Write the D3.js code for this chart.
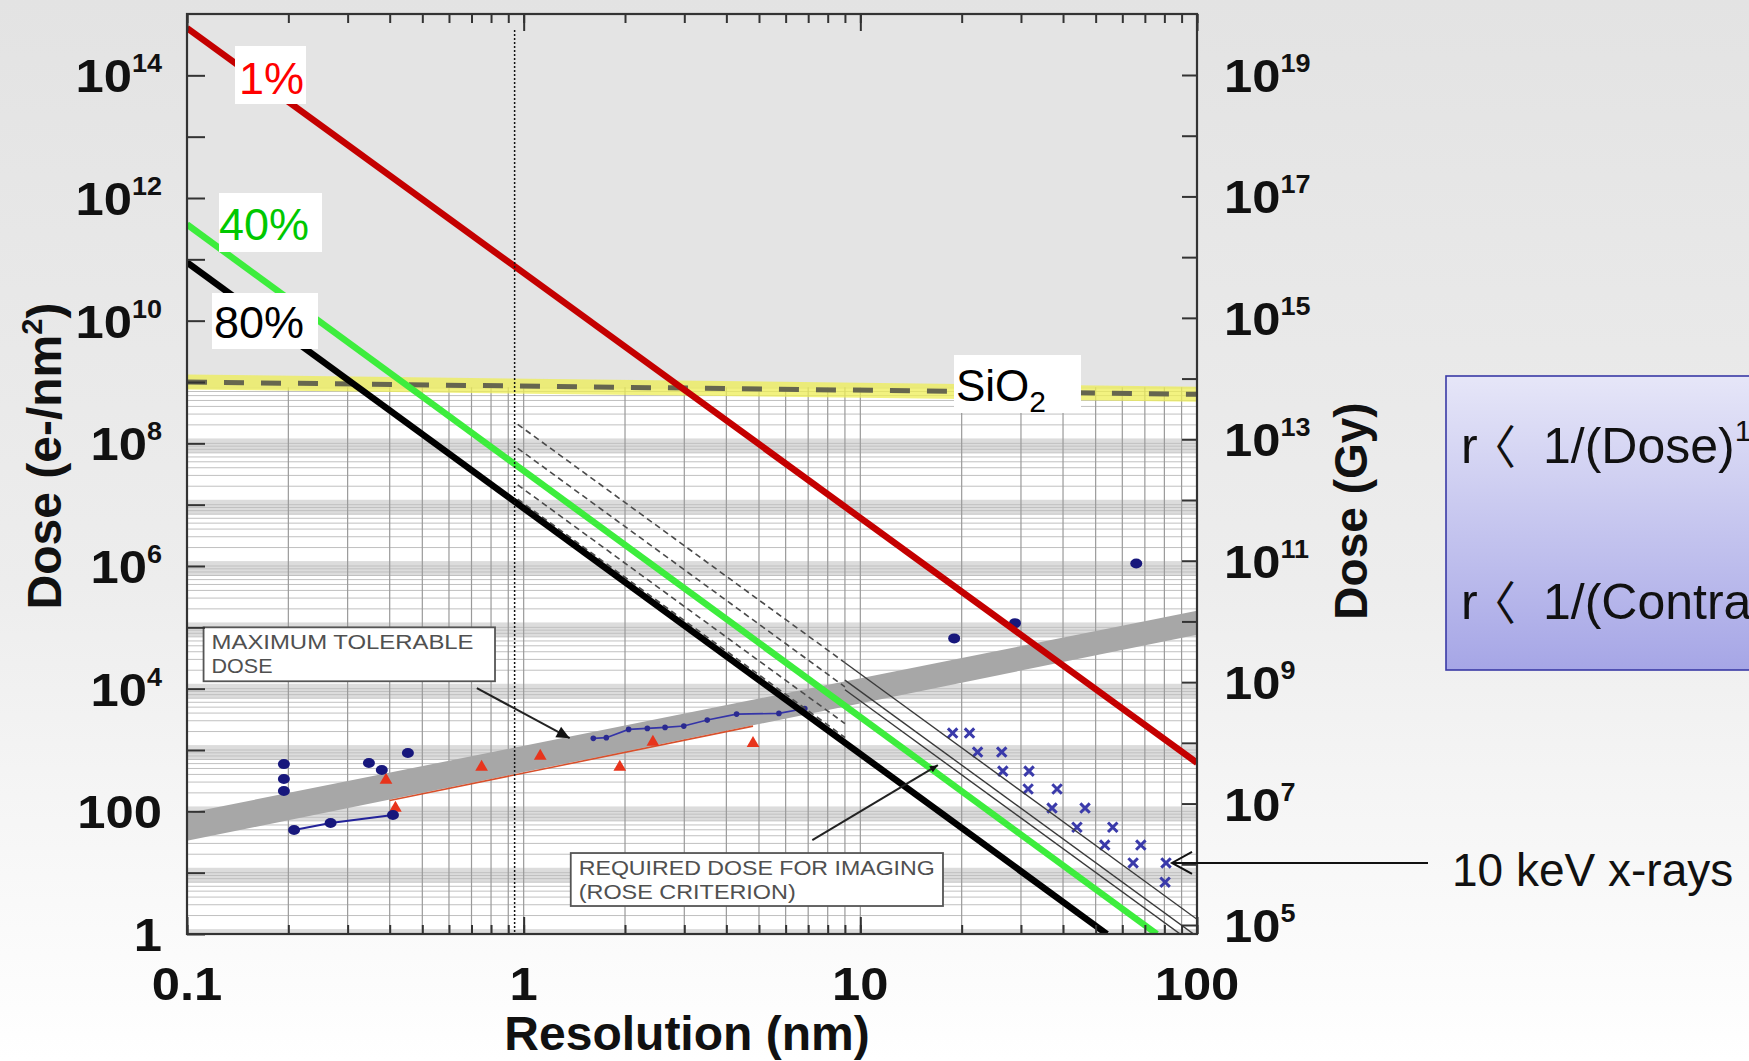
<!DOCTYPE html>
<html>
<head>
<meta charset="utf-8">
<script src="https://cdn.jsdelivr.net/npm/d3@7"></script>
<style>
  body { margin: 0; overflow: hidden; background: #fff; }
  svg { display: block; font-family: "Liberation Sans", Arial, sans-serif; }
</style>
</head>
<body>
<svg id="chart" width="1749" height="1061"></svg>
<script>
// ---- values ----
const xTickValues = [0.1, 1, 10, 100];
const xTickLabels = ['0.1', '1', '10', '100'];
const leftExps = d3.range(0, 15);            // 1 .. 1e14, tick each decade
const leftLabelExps = [0, 2, 4, 6, 8, 10, 12, 14];
const rightExps = d3.range(5, 20);           // 1e5 .. 1e19 (Gy)
const rightLabelExps = [5, 7, 9, 11, 13, 15, 17, 19];

// dose needed for a given fraction of resolvable features
const pctNames = ['1%', '40%', '80%'];
const pctColors = ['#c40000', '#3ded3d', '#000000'];
const pctLines = [
  [[0.1, 5.9e14], [100, 617]],
  [[0.1, 3.7e11], [76, 1]],
  [[0.1, 8.9e10], [54, 1]]
];

// SiO2 damage level
const sio2Line = [[0.1, 1.0e9], [100, 6.3e8]];

// Rose criterion lines of the original figure
const roseDashed = [
  [[0.96, 2.04e8], [9, 2.65e4]],
  [[0.96, 8.3e7], [9, 1.07e4]],
  [[0.96, 4.2e7], [9, 5.4e3]],
  [[0.96, 2.1e7], [9, 2.7e3]],
  [[0.96, 1.23e7], [9, 1.6e3]]
];
const roseSolid = [
  [[9, 2.65e4], [100, 1.74]],
  [[9, 1.38e4], [100, 0.91]],
  [[9, 9.6e3], [100, 0.63]]
];

// maximum tolerable dose band
const bandTop = [[0.1, 93], [100, 1.86e5]];
const bandBottom = [[0.1, 33], [100, 7.6e4]];

// measured points
const blueDots = [[0.194, 589], [0.194, 336], [0.194, 214], [0.347, 612], [0.379, 471],
                  [0.453, 891], [19, 6.6e4], [28.8, 1.17e5], [66, 1.1e6]];
const blueLow = [[0.208, 49.5], [0.267, 64.5], [0.409, 87]];
const blueUpper = [[1.61, 1549], [1.76, 1590], [2.05, 2168], [2.33, 2250], [2.63, 2335],
                   [2.99, 2455], [3.51, 3075], [4.29, 3850], [5.73, 3950], [6.84, 4760]];
const triangles = [[0.39, 324], [0.416, 113], [0.75, 525], [1.12, 794], [1.93, 525],
                   [2.42, 1350], [4.8, 1290]];
const redFit = [[0.4, 150], [4.8, 2450]];
const xrays = [[18.8, 1890], [21.1, 1890], [22.3, 925], [26.3, 925], [26.5, 453], [31.7, 453],
               [31.5, 231], [38.4, 231], [37.1, 113], [46.5, 113], [44, 55], [56.2, 55],
               [53.2, 28.2], [68.1, 28.2], [64.6, 14.4], [80.9, 14.4], [80.4, 7.0]];
const dottedX = 0.94;

// ---- layout ----
const W = 1749, H = 1061;
const frame = { left: 187, right: 1197, top: 14, bottom: 934 };
const gridTopValue = 8.2e8;
const tickFont = 47, supFont = 25, stretch = 1.08;

const svg = d3.select('#chart');
const defs = svg.append('defs');

const x = d3.scaleLog().domain([0.1, 100]).range([frame.left, frame.right]);
const y = d3.scaleLog().domain([1, 1e15]).range([frame.bottom, frame.top]);
const yRight = d3.scaleLog().domain([1e5, 1e19]).range([925, 75]);

function minorTicks(lo, hi){
  let out = [];
  for(let e = Math.floor(Math.log10(lo)); e <= Math.ceil(Math.log10(hi)); e++){
    for(let k = 1; k < 10; k++){
      let v = k * Math.pow(10, e);
      if(v >= lo * 0.999 && v <= hi * 1.001) out.push(v);
    }
  }
  return out;
}

// background gradients
const bg = defs.append('linearGradient').attr('id', 'bg').attr('x1', 0).attr('y1', 0).attr('x2', 0).attr('y2', 1);
bg.append('stop').attr('offset', '0%').attr('stop-color', '#e3e3e3');
bg.append('stop').attr('offset', '55%').attr('stop-color', '#ededed');
bg.append('stop').attr('offset', '100%').attr('stop-color', '#ffffff');

const boxGrad = defs.append('linearGradient').attr('id', 'boxg').attr('x1', 0).attr('y1', 0).attr('x2', 0).attr('y2', 1);
boxGrad.append('stop').attr('offset', '0%').attr('stop-color', '#e6e6f8');
boxGrad.append('stop').attr('offset', '100%').attr('stop-color', '#a6a6e6');

defs.append('clipPath').attr('id', 'plotclip')
  .append('rect')
  .attr('x', frame.left).attr('y', frame.top)
  .attr('width', frame.right - frame.left).attr('height', frame.bottom - frame.top);

svg.append('rect').attr('width', W).attr('height', H).attr('fill', 'url(#bg)');

const plot = svg.append('g').attr('clip-path', 'url(#plotclip)');

// upper plain area
plot.append('rect')
  .attr('x', frame.left).attr('y', frame.top)
  .attr('width', frame.right - frame.left).attr('height', frame.bottom - frame.top)
  .attr('fill', '#e4e4e4');

// lower gridded area (the original figure)
const gridTop = y(gridTopValue);
plot.append('rect')
  .attr('x', frame.left).attr('y', gridTop)
  .attr('width', frame.right - frame.left).attr('height', frame.bottom - gridTop)
  .attr('fill', '#ffffff');

const grid = plot.append('g');
d3.range(0, 9).forEach((d) => {
  let y0 = Math.max(y(Math.pow(10, d + 0.08)), gridTop), y1 = y(Math.pow(10, d - 0.15));
  grid.append('rect')
    .attr('x', frame.left).attr('y', y0)
    .attr('width', frame.right - frame.left).attr('height', y1 - y0)
    .attr('fill', '#dcdcdc');
});
grid.selectAll('line.h')
  .data(minorTicks(1, gridTopValue))
  .join('line')
  .attr('class', 'h')
  .attr('x1', frame.left).attr('x2', frame.right)
  .attr('y1', d => y(d)).attr('y2', d => y(d))
  .attr('stroke', '#c0c0c0').attr('stroke-width', 1);
grid.selectAll('line.v')
  .data(minorTicks(0.1, 100))
  .join('line')
  .attr('class', 'v')
  .attr('x1', d => x(d)).attr('x2', d => x(d))
  .attr('y1', gridTop).attr('y2', frame.bottom)
  .attr('stroke', '#9a9a9a').attr('stroke-width', 1.2);

const line = d3.line().x(d => x(d[0])).y(d => y(d[1]));

// SiO2 highlighted dashed level
plot.append('path').attr('d', line(sio2Line))
  .attr('fill', 'none').attr('stroke', '#eeee55').attr('stroke-opacity', 0.75).attr('stroke-width', 15);
plot.append('path').attr('d', line(sio2Line))
  .attr('fill', 'none').attr('stroke', '#66664f').attr('stroke-width', 5)
  .attr('stroke-dasharray', '20,17');

// maximum tolerable dose band
plot.append('path')
  .attr('d', line(bandTop.concat(bandBottom.slice().reverse())) + 'Z')
  .attr('fill', '#a7a7a7');

// measured data
plot.append('path').attr('d', line(redFit))
  .attr('fill', 'none').attr('stroke', '#d8502c').attr('stroke-width', 1.6);
plot.append('path').attr('d', line(blueLow))
  .attr('fill', 'none').attr('stroke', '#22229a').attr('stroke-width', 2);
plot.append('path').attr('d', line(blueUpper))
  .attr('fill', 'none').attr('stroke', '#3434a8').attr('stroke-width', 1.6);

plot.selectAll('path.tri')
  .data(triangles)
  .join('path')
  .attr('class', 'tri')
  .attr('d', d3.symbol().type(d3.symbolTriangle).size(70))
  .attr('transform', d => `translate(${x(d[0])},${y(d[1])})`)
  .attr('fill', '#e8341c');

plot.selectAll('ellipse.dot')
  .data(blueDots.concat(blueLow))
  .join('ellipse')
  .attr('class', 'dot')
  .attr('cx', d => x(d[0])).attr('cy', d => y(d[1]))
  .attr('rx', 6).attr('ry', 5)
  .attr('fill', '#17177c');

plot.selectAll('circle.sdot')
  .data(blueUpper)
  .join('circle')
  .attr('class', 'sdot')
  .attr('cx', d => x(d[0])).attr('cy', d => y(d[1]))
  .attr('r', 2.8)
  .attr('fill', '#2a2a90');

plot.selectAll('path.xr')
  .data(xrays)
  .join('path')
  .attr('class', 'xr')
  .attr('d', d3.symbol().type(d3.symbolX).size(60))
  .attr('transform', d => `translate(${x(d[0])},${y(d[1])})`)
  .attr('fill', 'none').attr('stroke', '#3a3aaa').attr('stroke-width', 3);

// Rose criterion lines
roseDashed.forEach((l) => {
  plot.append('path').attr('d', line(l))
    .attr('fill', 'none').attr('stroke', '#4a4a4a').attr('stroke-width', 1.6)
    .attr('stroke-dasharray', '6,4');
});
roseSolid.forEach((l) => {
  plot.append('path').attr('d', line(l))
    .attr('fill', 'none').attr('stroke', '#3a3a3a').attr('stroke-width', 1.4);
});

// threshold lines
pctLines.forEach((l, i) => {
  plot.append('path').attr('d', line(l))
    .attr('fill', 'none').attr('stroke', pctColors[i]).attr('stroke-width', 6.5);
});

// dotted line near 1 nm
plot.append('line')
  .attr('x1', x(dottedX)).attr('x2', x(dottedX))
  .attr('y1', frame.top + 16).attr('y2', frame.bottom)
  .attr('stroke', '#111').attr('stroke-width', 1.5).attr('stroke-dasharray', '2,2');

// percentage labels on white boxes
const pctLabelPos = [
  { bx: 235, by: 46, bw: 71, bh: 58, tx: 239, ty: 94, color: '#ff0000' },
  { bx: 219, by: 193, bw: 103, bh: 59, tx: 219, ty: 240, color: '#00c800' },
  { bx: 212, by: 293, bw: 106, bh: 56, tx: 214, ty: 338, color: '#000000' }
];
pctNames.forEach((name, i) => {
  let p = pctLabelPos[i];
  svg.append('rect').attr('x', p.bx).attr('y', p.by).attr('width', p.bw).attr('height', p.bh).attr('fill', '#fff');
  svg.append('text').attr('x', p.tx).attr('y', p.ty)
    .attr('font-size', 45).attr('fill', p.color).text(name);
});

// SiO2 label
svg.append('rect').attr('x', 954).attr('y', 355).attr('width', 127).attr('height', 58).attr('fill', '#fff');
const sioText = svg.append('text').attr('x', 956).attr('y', 401).attr('font-size', 44).attr('fill', '#000');
sioText.append('tspan').text('SiO');
sioText.append('tspan').attr('font-size', 30).attr('dy', 11).text('2');

// annotation boxes from the original figure
function annotBox(x0, y0, x1, y1, lines, widths){
  let px0 = x(x0), py0 = y(y0), px1 = x(x1), py1 = y(y1);
  svg.append('rect').attr('x', px0).attr('y', py0).attr('width', px1 - px0).attr('height', py1 - py0)
    .attr('fill', '#fff').attr('stroke', '#555').attr('stroke-width', 1.8);
  lines.forEach((t, i) => {
    svg.append('text').attr('x', px0 + 8).attr('y', py0 + 22 + i * 24)
      .attr('font-size', 19.5).attr('fill', '#505050')
      .attr('textLength', widths[i]).attr('lengthAdjust', 'spacingAndGlyphs')
      .text(t);
  });
}
annotBox(0.112, 1.0e5, 0.822, 1.32e4, ['MAXIMUM TOLERABLE', 'DOSE'], [262, 61]);
annotBox(1.38, 20.9, 17.6, 2.86, ['REQUIRED DOSE FOR IMAGING', '(ROSE CRITERION)'], [356, 217]);

function pointer(from, to, headLen, headW){
  let x0 = x(from[0]), y0 = y(from[1]), x1 = x(to[0]), y1 = y(to[1]);
  let a = Math.atan2(y1 - y0, x1 - x0);
  svg.append('line').attr('x1', x0).attr('y1', y0).attr('x2', x1).attr('y2', y1)
    .attr('stroke', '#222').attr('stroke-width', 2);
  let bx = x1 - headLen * Math.cos(a), by = y1 - headLen * Math.sin(a);
  let nx = -Math.sin(a) * headW, ny = Math.cos(a) * headW;
  svg.append('path')
    .attr('d', `M${x1},${y1}L${bx + nx},${by + ny}L${bx - nx},${by - ny}Z`)
    .attr('fill', '#111');
}
pointer([0.726, 1.02e4], [1.37, 1560], 13, 6);
pointer([7.2, 34], [17, 565], 8, 3.5);

// ---- axes ----
const axes = svg.append('g').attr('fill', 'none');

axes.append('g').attr('transform', `translate(0,${frame.top})`)
  .call(d3.axisTop(x).tickValues(minorTicks(0.1, 100)).tickSize(-9).tickFormat(''))
  .call(g => g.selectAll('.tick line').attr('stroke', '#333').attr('stroke-width', 2));
axes.append('g').attr('transform', `translate(0,${frame.top})`)
  .call(d3.axisTop(x).tickValues(xTickValues).tickSize(-17).tickFormat(''))
  .call(g => g.selectAll('.tick line').attr('stroke', '#333').attr('stroke-width', 2));
axes.append('g').attr('transform', `translate(0,${frame.bottom})`)
  .call(d3.axisBottom(x).tickValues(minorTicks(0.1, 100)).tickSize(-9).tickFormat(''))
  .call(g => g.selectAll('.tick line').attr('stroke', '#333').attr('stroke-width', 2));
axes.append('g').attr('transform', `translate(0,${frame.bottom})`)
  .call(d3.axisBottom(x).tickValues(xTickValues).tickSize(-17).tickFormat(''))
  .call(g => g.selectAll('.tick line').attr('stroke', '#333').attr('stroke-width', 2));
axes.append('g').attr('transform', `translate(${frame.left},0)`)
  .call(d3.axisLeft(y).tickValues(leftExps.map(e => Math.pow(10, e))).tickSize(-18).tickFormat(''))
  .call(g => g.selectAll('.tick line').attr('stroke', '#333').attr('stroke-width', 2));
axes.append('g').attr('transform', `translate(${frame.right},0)`)
  .call(d3.axisRight(yRight).tickValues(rightExps.map(e => Math.pow(10, e))).tickSize(-15).tickFormat(''))
  .call(g => g.selectAll('.tick line').attr('stroke', '#333').attr('stroke-width', 2));
axes.selectAll('.domain').remove();

svg.append('rect')
  .attr('x', frame.left).attr('y', frame.top)
  .attr('width', frame.right - frame.left).attr('height', frame.bottom - frame.top)
  .attr('fill', 'none').attr('stroke', '#333').attr('stroke-width', 2.2);

// tick labels (the scanned figure's numerals are a bit wider than the font)
const lab = svg.append('g').attr('font-weight', 'bold').attr('fill', '#111');

lab.selectAll('text.xl')
  .data(xTickValues)
  .join('text')
  .attr('class', 'xl')
  .attr('transform', d => `translate(${x(d)},1000) scale(${stretch},1)`)
  .attr('text-anchor', 'middle').attr('font-size', tickFont)
  .text((d, i) => xTickLabels[i]);

function powLabel(sel, e){
  if(e === 0){ sel.text('1'); return; }
  if(e === 2){ sel.text('100'); return; }
  sel.append('tspan').text('10');
  sel.append('tspan').attr('font-size', supFont).attr('dy', -20).text(e);
}

lab.selectAll('text.yl')
  .data(leftLabelExps)
  .join('text')
  .attr('class', 'yl')
  .attr('transform', d => `translate(162,${y(Math.pow(10, d)) + 17}) scale(${stretch},1)`)
  .attr('text-anchor', 'end').attr('font-size', tickFont)
  .each(function(d){ powLabel(d3.select(this), d); });

lab.selectAll('text.yr')
  .data(rightLabelExps)
  .join('text')
  .attr('class', 'yr')
  .attr('transform', d => `translate(1224,${yRight(Math.pow(10, d)) + 17}) scale(${stretch},1)`)
  .attr('text-anchor', 'start').attr('font-size', tickFont)
  .each(function(d){ powLabel(d3.select(this), d); });

// axis titles
const yTitle = lab.append('text')
  .attr('transform', `translate(61,456) rotate(-90)`)
  .attr('text-anchor', 'middle').attr('font-size', 48);
yTitle.append('tspan').text('Dose (e-/nm');
yTitle.append('tspan').attr('font-size', 29).attr('dy', -19).text('2');
yTitle.append('tspan').attr('dy', 19).text(')');

lab.append('text')
  .attr('transform', `translate(1367,511) rotate(-90)`)
  .attr('text-anchor', 'middle').attr('font-size', 46)
  .text('Dose (Gy)');

lab.append('text')
  .attr('x', 687).attr('y', 1050)
  .attr('text-anchor', 'middle').attr('font-size', 48)
  .text('Resolution (nm)');

// ---- slide annotations on the right ----
svg.append('rect').attr('x', 1446).attr('y', 376).attr('width', 330).attr('height', 294)
  .attr('fill', 'url(#boxg)').attr('stroke', '#3a3aa6').attr('stroke-width', 1.6);

function scalingLine(yy, body, sup){
  let t = svg.append('text').attr('y', yy).attr('font-size', 50).attr('fill', '#111');
  t.append('tspan').attr('x', 1461).text('r');
  t.append('tspan').attr('x', 1470).attr('font-family', '"Noto Sans CJK JP"').attr('font-size', 46).text('〈');
  t.append('tspan').attr('x', 1543).text(body);
  t.append('tspan').attr('font-size', 30).attr('dy', -22).text(sup);
}
scalingLine(463, '1/(Dose)', '1/4');
scalingLine(619, '1/(Contrast)', '1/2');

const tip = [x(xrays[15][0]) + 6, y(xrays[15][1])];
svg.append('line').attr('x1', 1428).attr('y1', tip[1]).attr('x2', tip[0]).attr('y2', tip[1])
  .attr('stroke', '#111').attr('stroke-width', 2);
svg.append('path')
  .attr('d', `M${tip[0] + 20},${tip[1] - 11}L${tip[0]},${tip[1]}L${tip[0] + 20},${tip[1] + 11}`)
  .attr('fill', 'none').attr('stroke', '#111').attr('stroke-width', 2);
svg.append('text').attr('x', 1452).attr('y', 886).attr('font-size', 46).attr('fill', '#111')
  .text('10 keV x-rays');
</script>
</body>
</html>
